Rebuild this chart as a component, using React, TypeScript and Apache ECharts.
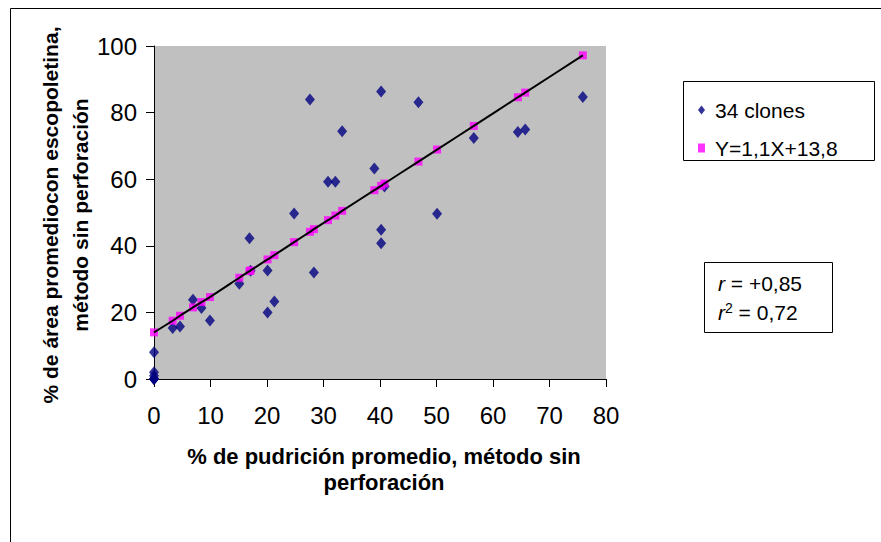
import React, { useEffect, useRef } from "react";
import * as echarts from "echarts";

// Observed clones (x: % pudrición, y: % área escopoletina)
const cloneX = [0, 0, 0, 0, 0, 0, 3.3, 4.6, 6.9, 8.4, 9.9, 15.1, 16.9, 17.1, 20.1, 21.3, 20.1, 24.8, 27.6, 28.3, 30.8, 32.1, 33.3, 39.0, 40.2, 40.8, 40.2, 40.2, 46.8, 50.1, 56.6, 64.4, 65.7, 75.9];
const cloneY = [0, 0, 0, 1, 2, 8, 15.3, 15.8, 23.8, 21.3, 17.6, 28.6, 42.3, 32.5, 20, 23.3, 32.6, 49.7, 83.9, 32, 59.2, 59.2, 74.4, 63.2, 86.3, 57.8, 44.8, 40.8, 83.1, 49.6, 72.4, 74.2, 74.9, 84.7];

// Fitted values (pink squares)
const fitX = [0, 3.3, 4.6, 6.9, 8.4, 9.9, 15.1, 16.9, 17.1, 20.1, 21.3, 24.8, 27.6, 28.3, 30.8, 32.1, 33.3, 39.0, 40.2, 40.8, 46.8, 50.1, 56.6, 64.4, 65.7, 75.9];
const fitY = [14, 17.5, 19, 21.5, 23.1, 24.6, 30.4, 32.4, 32.6, 35.9, 37.2, 41.1, 44.2, 45, 47.7, 49.1, 50.5, 56.7, 58, 58.7, 65.3, 68.9, 76, 84.6, 86, 97.2];

const seriesNames = ["34 clones", "Y=1,1X+13,8"];
const xTitle1 = "% de pudrición promedio, método sin";
const xTitle2 = "perforación";
const yTitle1 = "% de área promediocon escopoletina,";
const yTitle2 = "método sin perforación";

const FONT = "'Liberation Sans', Arial, sans-serif";

export default function App() {
  const ref = useRef<HTMLDivElement>(null);
  useEffect(() => {
    if (!ref.current) return;
    const chart = echarts.init(ref.current, undefined, { renderer: "svg" });
    const clones = cloneX.map((x, i) => [x, cloneY[i]]);
    const fit = fitX.map((x, i) => [x, fitY[i]]);
    chart.setOption({
      animation: false,
      backgroundColor: "#ffffff",
      textStyle: { fontFamily: FONT },
      grid: { left: 154, right: 275, top: 46, bottom: 163, show: true, backgroundColor: "#C0C0C0", borderWidth: 0 },
      xAxis: {
        type: "value",
        min: 0,
        max: 80,
        interval: 10,
        axisLine: { show: true, onZero: false, lineStyle: { color: "#000", width: 1 } },
        axisTick: { show: true, length: 8, lineStyle: { color: "#000" } },
        axisLabel: { color: "#000", fontSize: 24, fontFamily: FONT, margin: 24 },
        splitLine: { show: false },
      },
      yAxis: {
        type: "value",
        min: 0,
        max: 100,
        interval: 20,
        axisLine: { show: true, onZero: false, lineStyle: { color: "#000", width: 1 } },
        axisTick: { show: true, length: 8, lineStyle: { color: "#000" } },
        axisLabel: { color: "#000", fontSize: 24, fontFamily: FONT, margin: 17 },
        splitLine: { show: false },
      },
      legend: {
        orient: "vertical",
        left: 693,
        top: 93,
        itemWidth: 7,
        itemHeight: 9,
        itemGap: 14,
        textStyle: { fontSize: 21, fontFamily: FONT, color: "#000", lineHeight: 24, padding: [0, 0, 0, 5] },
        data: [
          { name: seriesNames[0], icon: "diamond" },
          { name: seriesNames[1], icon: "rect" },
        ],
      },
      series: [
        {
          name: seriesNames[0],
          type: "scatter",
          symbol: "diamond",
          symbolSize: [10, 12],
          itemStyle: { color: "#000080" },
          data: clones,
          z: 2,
        },
        {
          name: seriesNames[1],
          type: "scatter",
          symbol: "rect",
          symbolSize: [8, 8],
          itemStyle: { color: "#FF00FF" },
          data: fit,
          z: 3,
        },
        {
          name: "trend",
          type: "line",
          data: fit,
          smooth: 0.3,
          showSymbol: false,
          symbol: "none",
          lineStyle: { color: "#000", width: 2 },
          z: 4,
        },
      ],
      graphic: [
        { type: "rect", shape: { x: 10.5, y: 8.5, width: 1000, height: 1000 }, style: { fill: "none", stroke: "#000", lineWidth: 1 }, z: 100, silent: true },
        { type: "rect", shape: { x: 683.5, y: 81.5, width: 191, height: 79 }, style: { fill: "none", stroke: "#000", lineWidth: 1 }, z: 100 },
        { type: "rect", shape: { x: 704.5, y: 262.5, width: 128, height: 70 }, style: { fill: "#fff", stroke: "#000", lineWidth: 1 }, z: 100 },
        {
          type: "text", x: 718, y: 283, z: 101,
          style: {
            text: "{i|r} = +0,85",
            fontSize: 21, fontFamily: FONT, fill: "#000", verticalAlign: "middle",
            rich: { i: { fontStyle: "italic", fontSize: 21, fontFamily: FONT } },
          },
        },
        {
          type: "text", x: 718, y: 312, z: 101,
          style: {
            text: "{i|r}{s|2} = 0,72",
            fontSize: 21, fontFamily: FONT, fill: "#000", verticalAlign: "middle",
            rich: {
              i: { fontStyle: "italic", fontSize: 21, fontFamily: FONT },
              s: { fontSize: 14, fontFamily: FONT, verticalAlign: "top", padding: [0, 0, 8, 0] },
            },
          },
        },
        { type: "text", x: 384, y: 456, z: 101, style: { text: xTitle1, fontSize: 22, fontWeight: "bold", fontFamily: FONT, fill: "#000", align: "center", verticalAlign: "middle" } },
        { type: "text", x: 384, y: 482, z: 101, style: { text: xTitle2, fontSize: 22, fontWeight: "bold", fontFamily: FONT, fill: "#000", align: "center", verticalAlign: "middle" } },
        { type: "text", x: 50, y: 215, rotation: Math.PI / 2, z: 101, style: { text: yTitle1, fontSize: 21, fontWeight: "bold", fontFamily: FONT, fill: "#000", align: "center", verticalAlign: "middle" } },
        { type: "text", x: 80, y: 215, rotation: Math.PI / 2, z: 101, style: { text: yTitle2, fontSize: 21, fontWeight: "bold", fontFamily: FONT, fill: "#000", align: "center", verticalAlign: "middle" } },
      ],
    });
    return () => chart.dispose();
  }, []);
  return <div ref={ref} style={{ position: "fixed", left: 0, top: 0, width: 881, height: 542 }} />;
}
